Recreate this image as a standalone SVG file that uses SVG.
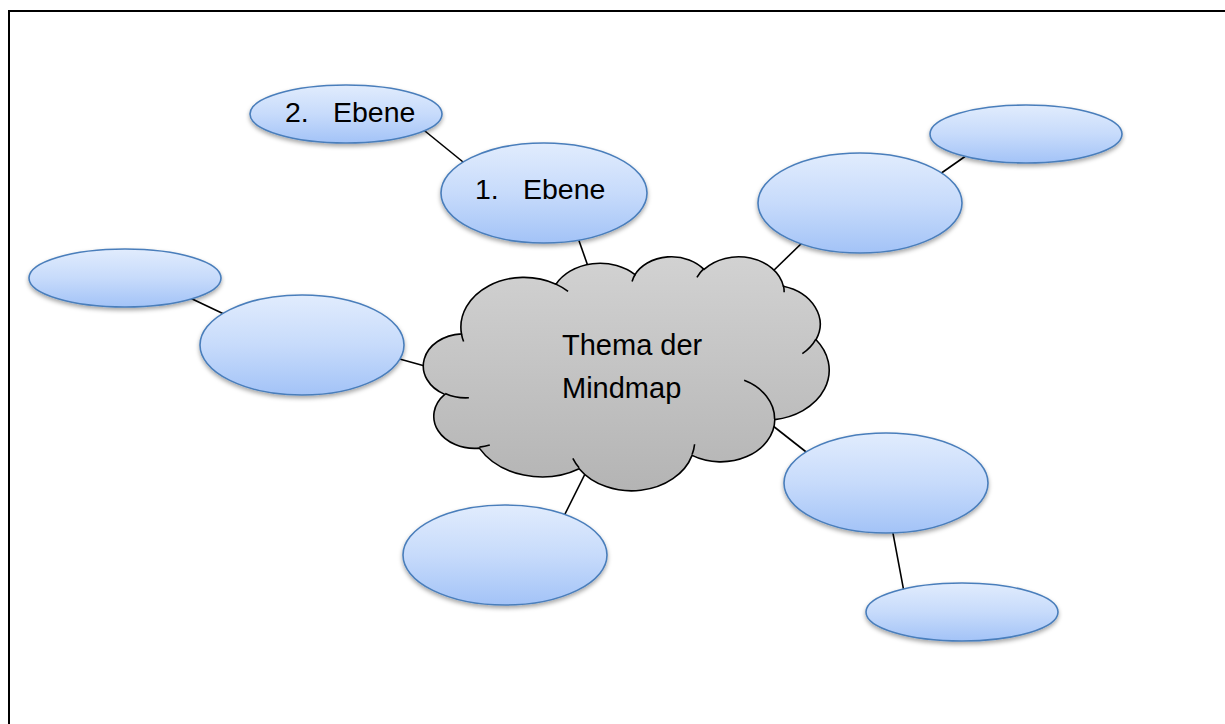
<svg xmlns="http://www.w3.org/2000/svg" width="1225" height="724" viewBox="0 0 1225 724">
<defs>
<linearGradient id="blue" x1="0" y1="0" x2="0" y2="1">
<stop offset="0" stop-color="#e1ecfd"/>
<stop offset="0.5" stop-color="#c7dbfb"/>
<stop offset="1" stop-color="#a3c3f7"/>
</linearGradient>
<linearGradient id="gray" x1="0" y1="0" x2="0" y2="1">
<stop offset="0" stop-color="#d2d2d2"/>
<stop offset="1" stop-color="#b4b4b4"/>
</linearGradient>
<filter id="shadow" x="-20%" y="-20%" width="140%" height="150%">
<feDropShadow dx="0" dy="2.5" stdDeviation="2" flood-color="#000" flood-opacity="0.35"/>
</filter>
</defs>
<style>
.frame{stroke:#000;stroke-width:2;fill:none}
.conn{stroke:#000;stroke-width:1.6;fill:none}
.node{fill:url(#blue);stroke:#4a7ebb;stroke-width:1.6;filter:url(#shadow)}
.cloud{fill:url(#gray);stroke:#000;stroke-width:1.6}
.tail{fill:none;stroke:#000;stroke-width:1.6}
.lbl{font-family:"Liberation Sans",Arial,sans-serif;font-size:28.5px;fill:#000}
</style>
<rect width="1225" height="724" fill="#fff"/>
<path class="frame" d="M9,724 V11 H1225"/>
<g id="connectors">
<line class="conn" x1="420" y1="127" x2="468" y2="166"/>
<line class="conn" x1="577" y1="235" x2="590" y2="272"/>
<line class="conn" x1="805" y1="240" x2="770" y2="274"/>
<line class="conn" x1="940" y1="174" x2="970" y2="153"/>
<line class="conn" x1="188" y1="297" x2="226" y2="315"/>
<line class="conn" x1="396" y1="358" x2="432" y2="368"/>
<line class="conn" x1="768" y1="422" x2="810" y2="455"/>
<line class="conn" x1="892" y1="528" x2="904" y2="592"/>
<line class="conn" x1="588" y1="468" x2="562" y2="520"/>
</g>
<g id="cloud">
<path class="cloud" d="M461.47,333.84 A63.15,49.78 0 0 1 555.98,284.18 A49.87,39.36 0 0 1 635.01,274.58 A40.82,32.20 0 0 1 704.0,269.42 A45.42,35.72 0 0 1 783.35,286.19 A49.87,39.40 0 0 1 816.08,339.72 A63.36,49.94 0 0 1 774.81,419.59 A54.10,42.61 0 0 1 692.06,455.39 A63.14,49.91 0 0 1 579.14,468.68 A72.20,57.11 0 0 1 479.29,448.12 A40.77,32.06 0 0 1 444.77,394.38 A40.63,32.20 0 0 1 461.47,333.84 Z"/>
<path class="tail" d="M468.89,397.79 A40.63,32.20 0 0 1 445.20,393.47 M489.79,445.04 A40.77,32.06 0 0 1 479.42,447.10 M579.10,467.74 A63.14,49.91 0 0 1 572.85,458.30 M694.59,444.23 A63.14,49.91 0 0 1 692.09,454.57 M744.17,380.34 A54.10,42.61 0 0 1 774.58,418.99 M815.89,339.17 A49.87,39.40 0 0 1 802.35,353.66 M783.40,285.39 A45.42,35.72 0 0 1 784.12,292.24 M696.93,277.41 A45.42,35.72 0 0 1 703.88,268.67 M632.06,281.57 A40.82,32.20 0 0 1 635.42,274.04 M555.93,284.12 A63.15,49.78 0 0 1 568.07,291.42 M463.60,341.53 A63.15,49.78 0 0 1 461.47,333.84"/>
<text class="lbl" x="562" y="355" style="font-size:29px">Thema der</text>
<text class="lbl" x="562" y="398" style="font-size:29px">Mindmap</text>
</g>
<g id="level2-topleft">
<ellipse class="node" cx="346" cy="114" rx="96" ry="29"/>
<text class="lbl" x="285" y="122">2.</text>
<text class="lbl" x="333" y="122">Ebene</text>
</g>
<g id="level1-top">
<ellipse class="node" cx="544" cy="193" rx="103" ry="50"/>
<text class="lbl" x="475" y="199">1.</text>
<text class="lbl" x="523" y="199">Ebene</text>
</g>
<g id="level2-topright">
<ellipse class="node" cx="1026" cy="134" rx="96" ry="29"/>
</g>
<g id="level1-topright">
<ellipse class="node" cx="860" cy="203" rx="102" ry="50"/>
</g>
<g id="level2-left">
<ellipse class="node" cx="125" cy="278" rx="96" ry="29"/>
</g>
<g id="level1-left">
<ellipse class="node" cx="302" cy="345" rx="102" ry="50"/>
</g>
<g id="level1-bottomright">
<ellipse class="node" cx="886" cy="483" rx="102" ry="50"/>
</g>
<g id="level2-bottomright">
<ellipse class="node" cx="962" cy="612" rx="96" ry="29"/>
</g>
<g id="level1-bottom">
<ellipse class="node" cx="505" cy="555" rx="102" ry="50"/>
</g>
</svg>
